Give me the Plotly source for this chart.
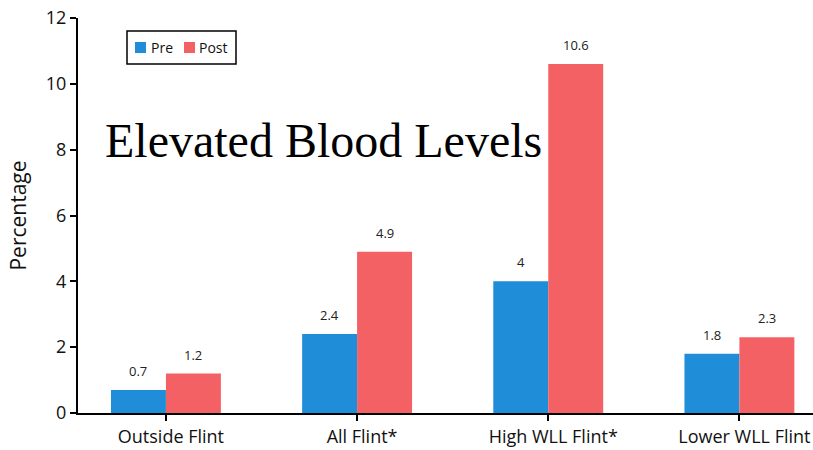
import plotly.graph_objects as go

categories = ["Outside Flint", "All Flint*", "High WLL Flint*", "Lower WLL Flint"]
pre_values = [0.7, 2.4, 4.0, 1.8]
post_values = [1.2, 4.9, 10.6, 2.3]
y_ticks = [0, 2, 4, 6, 8, 10, 12]
series_names = ["Pre", "Post"]

PRE_COLOR = "#1f8dd8"
POST_COLOR = "#f46164"
FONT = "Open Sans"

# plotting-area geometry in pixels
L, T, B, W, H = 78, 18, 37, 813, 450
PW, PH = W - L, H - T - B


def px_x(x):
    return (x - L) / PW


def px_y(y):
    return (H - B - y) / PH


fig = go.Figure()
fig.add_trace(go.Bar(name=series_names[0], x=categories, y=pre_values,
                     marker=dict(color=PRE_COLOR, line=dict(width=0))))
fig.add_trace(go.Bar(name=series_names[1], x=categories, y=post_values,
                     marker=dict(color=POST_COLOR, line=dict(width=0))))

# value labels above each bar
bar_px = 27.5
for vals, shift in ((pre_values, -bar_px), (post_values, bar_px)):
    for cat, v in zip(categories, vals):
        fig.add_annotation(x=cat, y=v, xref="x", yref="y", text=f"{v:g}",
                           showarrow=False, xshift=shift, yshift=19,
                           font=dict(family=FONT, size=13, color="#222"))

fig.add_annotation(x=px_x(103), y=px_y(140), xref="paper", yref="paper",
                   text="Elevated Blood Levels", showarrow=False,
                   xanchor="left", yanchor="middle",
                   font=dict(family="Liberation Serif", size=48, color="black"))

# compact boxed legend
shapes = [dict(type="rect", xref="paper", yref="paper",
               x0=px_x(127), x1=px_x(236), y0=px_y(64), y1=px_y(31),
               line=dict(color="black", width=1.5), fillcolor="white", layer="above")]
for name, color, sx, tx in ((series_names[0], PRE_COLOR, 135, 149),
                            (series_names[1], POST_COLOR, 184, 197)):
    shapes.append(dict(type="rect", xref="paper", yref="paper",
                       x0=px_x(sx), x1=px_x(sx + 11), y0=px_y(53), y1=px_y(42),
                       line=dict(width=0), fillcolor=color, layer="above"))
    fig.add_annotation(x=px_x(tx), y=px_y(47.5), xref="paper", yref="paper", text=name,
                       showarrow=False, xanchor="left", yanchor="middle",
                       font=dict(family=FONT, size=14, color="#111"))

fig.update_layout(
    width=W, height=H,
    margin=dict(l=L, r=0, t=T, b=B, pad=0),
    plot_bgcolor="white", paper_bgcolor="white",
    barmode="group", bargap=0.425, bargroupgap=0,
    showlegend=False, shapes=shapes,
    font=dict(family=FONT, color="#111"),
    xaxis=dict(range=[-0.46, 3.385], showline=True, linecolor="black", linewidth=2,
               ticks="outside", ticklen=6, tickcolor="black", tickwidth=2,
               ticklabelshift=5,
               tickfont=dict(family=FONT, size=18, color="#111"), showgrid=False),
    yaxis=dict(range=[0, 12], tickvals=y_ticks, showline=True, linecolor="black",
               linewidth=2, ticks="outside", ticklen=6, tickcolor="black", tickwidth=2,
               tickfont=dict(family=FONT, size=18, color="#111"), showgrid=False,
               zeroline=False,
               title=dict(text="Percentage", font=dict(family=FONT, size=21, color="#111"),
                          standoff=13)),
)

fig.write_html("out.html")
